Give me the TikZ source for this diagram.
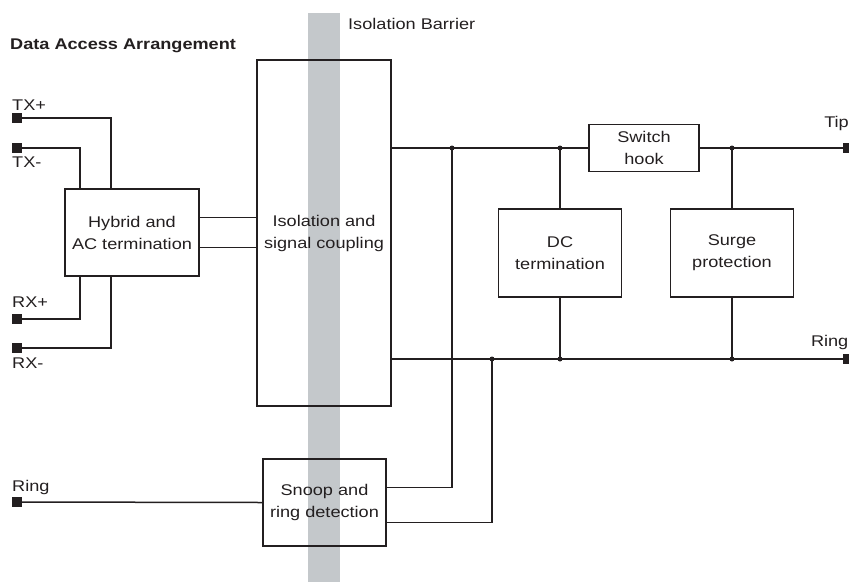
\documentclass[tikz,border=0pt]{standalone}
\usepackage{fontspec}
\setmainfont{Liberation Sans}[FakeStretch=1.17]
\definecolor{barrier}{RGB}{196,200,203}
\definecolor{ink}{RGB}{35,31,32}
\begin{document}
\begin{tikzpicture}[x=1pt, y=-1pt, font=\fontsize{15.5}{22}\selectfont, text=ink]
    % Define styles
    \tikzstyle{block} = [draw=ink, line width=1.5pt, align=center, inner sep=0pt]
    \tikzstyle{terminal} = [rectangle, fill=ink, minimum size=10pt, inner sep=0pt]
    \tikzstyle{wire} = [draw=ink, line width=1.5pt]
    \tikzstyle{dot} = [circle, fill=ink, minimum size=5pt, inner sep=0pt]
    \tikzstyle{label} = [inner sep=0pt]

    \useasboundingbox (0,0) rectangle (849,582);

    % Isolation barrier
    \fill[barrier] (308,13) rectangle (340,582);
    \node[label, anchor=west] (barlabel) at (348,24) {Isolation Barrier};
    \node[label, anchor=west] (title) at (10,46) {\bfseries Data Access Arrangement};

    % Blocks
    \node[block, minimum width=134pt, minimum height=87pt] (hybrid) at (132,232.5) {Hybrid and\\AC termination};
    \node[block, minimum width=134pt, minimum height=346pt] (iso) at (324,233) {Isolation and\\signal coupling};
    \node[block, minimum width=123pt, minimum height=87pt] (snoop) at (324.5,502.5) {Snoop and\\ring detection};
    \node[block, minimum width=110pt, minimum height=47pt] (switch) at (644,148) {Switch\\hook};
    \node[block, minimum width=123pt, minimum height=88pt] (dcterm) at (560,253) {DC\\termination};
    \node[block, minimum width=123pt, minimum height=88pt] (surge) at (732,253) {Surge\\protection};

    % Terminals on the left
    \node[terminal] (txp) at (17,118) {};
    \node[terminal] (txm) at (17,148) {};
    \node[terminal] (rxp) at (17,319) {};
    \node[terminal] (rxm) at (17,348) {};
    \node[terminal] (ringin) at (17,502) {};

    % Terminals on the right
    \node[terminal] (tip) at (848,148) {};
    \node[terminal] (ring) at (848,359) {};

    % Terminal labels
    \node[label, anchor=west] (txplabel) at (12,105) {TX+};
    \node[label, anchor=west] (txmlabel) at (12,162) {TX-};
    \node[label, anchor=west] (rxplabel) at (12,302) {RX+};
    \node[label, anchor=west] (rxmlabel) at (12,363) {RX-};
    \node[label, anchor=west] (ringinlabel) at (12,487) {Ring};
    \node[label, anchor=east] (tiplabel) at (849,123) {Tip};
    \node[label, anchor=east] (ringlabel) at (848.5,342) {Ring};

    % Junctions
    \coordinate (ja) at (452,148);
    \coordinate (jb) at (560,148);
    \coordinate (jc) at (732,148);
    \coordinate (jd) at (492,359);
    \coordinate (je) at (560,359);
    \coordinate (jf) at (732,359);

    % Wires on the line side
    \draw[wire] (txp) -| ([xshift=-21pt]hybrid.north);
    \draw[wire] (txm) -| ([xshift=-52pt]hybrid.north);
    \draw[wire] (rxp) -| ([xshift=-52pt]hybrid.south);
    \draw[wire] (rxm) -| ([xshift=-21pt]hybrid.south);
    \draw[wire] ([yshift=15pt]hybrid.east) -- ([yshift=15pt]hybrid.east -| iso.west);
    \draw[wire] ([yshift=-15pt]hybrid.east) -- ([yshift=-15pt]hybrid.east -| iso.west);
    \draw[wire] (ringin) -- (snoop.west);

    % Tip and ring lines
    \draw[wire] (iso.east |- switch.west) -- (switch.west);
    \draw[wire] (switch.east) -- (tip);
    \draw[wire] (iso.east |- ring) -- (ring);
    \draw[wire] (jb) -- (dcterm.north);
    \draw[wire] (dcterm.south) -- (je);
    \draw[wire] (jc) -- (surge.north);
    \draw[wire] (surge.south) -- (jf);
    \draw[wire] ([yshift=15pt]snoop.east) -| (ja);
    \draw[wire] ([yshift=-20pt]snoop.east) -| (jd);

    % Dots
    \foreach \j in {ja,jb,jc,jd,je,jf}
        \node[dot] at (\j) {};

\end{tikzpicture}
\end{document}
